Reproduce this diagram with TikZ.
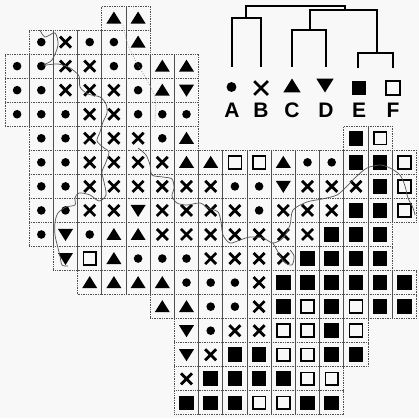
\documentclass[tikz,border=0pt]{standalone}
\usepackage{fontspec}
\setmainfont{Liberation Sans}
\definecolor{bgc}{RGB}{248,248,248}
\definecolor{gridc}{RGB}{80,80,80}
\definecolor{wavec}{RGB}{85,85,85}
\tikzset{
  cellbox/.style={draw=gridc, line width=0.8pt, dash pattern=on 1pt off 0.7pt,
    minimum width=24.2pt, minimum height=24.05pt, inner sep=0pt, outer sep=0pt},
  dendro/.style={line width=2pt, line cap=rect},
  lettr/.style={font=\fontsize{21}{21}\selectfont\bfseries, inner sep=0pt},
  wave/.style={draw=wavec, line width=0.7pt},
  faint/.style={draw=wavec!60, line width=0.6pt, dash pattern=on 1pt off 1.5pt}
}
\newcommand\dsymo[2][1]{\begin{scope}[shift={(#2)},scale=#1]\fill (0,0) circle[radius=4.3];\end{scope}}
\newcommand\dsymx[2][1]{\begin{scope}[shift={(#2)},scale=#1]\draw[line width=2.8pt] (-5.5,-5.5) -- (5.5,5.5) (-5.5,5.5) -- (5.5,-5.5);\end{scope}}
\newcommand\dsymt[2][1]{\begin{scope}[shift={(#2)},scale=#1]\fill (0,-6.5) -- (7.5,5.5) -- (-7.5,5.5) -- cycle;\end{scope}}
\newcommand\dsymv[2][1]{\begin{scope}[shift={(#2)},scale=#1]\fill (0,6.5) -- (7.5,-5.5) -- (-7.5,-5.5) -- cycle;\end{scope}}
\newcommand\dsymf[2][1]{\begin{scope}[shift={(#2)},scale=#1]\fill (-7.3,-7.3) rectangle (7.3,7.3);\end{scope}}
\newcommand\dsyme[2][1]{\begin{scope}[shift={(#2)},scale=#1]\draw[line width=1.6pt] (-6.4,-6.4) rectangle (6.4,6.4);\end{scope}}
\newcommand\cellrow[3]{%
  \foreach \s [count=\k from #2] in {#3} {%
    \node[cellbox] (c#1-\k) at ({5+24.2*\k+12.1},{6+24.05*#1+12.03}) {};
    \csname dsym\s\endcsname{c#1-\k}
  }}
\begin{document}
\begin{tikzpicture}[x=1pt,y=-1pt]
\fill[bgc] (0,0) rectangle (419,418);
\useasboundingbox (0,0) rectangle (419,418);
% grid
\cellrow{0}{4}{t,t}
\cellrow{1}{1}{o,x,o,o,t}
\cellrow{2}{0}{o,o,x,x,o,o,t,t}
\cellrow{3}{0}{o,o,x,x,x,o,t,v}
\cellrow{4}{0}{o,o,o,x,x,o,o,o}
\cellrow{5}{1}{o,o,x,x,x,o,t}
\cellrow{5}{14}{f,e}
\cellrow{6}{1}{o,o,x,x,x,x,t,t,e,e,t,o,o,f,f,e}
\cellrow{7}{1}{o,o,x,x,x,x,x,x,o,o,v,x,x,x,f,e}
\cellrow{8}{1}{o,o,x,x,v,x,x,x,x,o,x,x,x,f,f,e}
\cellrow{9}{1}{o,v,o,t,t,x,x,x,x,x,x,x,f,f,f}
\cellrow{10}{2}{v,e,t,o,o,o,x,x,x,x,f,f,f,f}
\cellrow{11}{3}{t,t,t,t,o,o,o,x,f,f,f,f,f,f}
\cellrow{12}{6}{t,t,o,o,x,f,e,f,e,f,f}
\cellrow{13}{7}{v,o,x,x,e,e,f,e}
\cellrow{14}{7}{v,x,f,f,e,e,f,f}
\cellrow{15}{7}{x,f,f,f,f,e,e}
\cellrow{16}{7}{f,f,f,e,e,f,f}
% boundary lines
\draw[wave] plot[smooth] coordinates {(40,30) (45,37) (55,33) (58,45) (52,60) (44,65) (58,64) (70,68) (79,76) (80,87) (88,94) (100,97) (106,104) (107,113) (103,122) (100,132) (97,141) (104,148) (109,152) (106,162) (102,172) (104,182) (106,195) (99,201) (90,195) (79,193) (75,198) (75,205) (66,207) (58,213) (55,222) (55,235) (58,248) (60,256) (62,265) (68,266)};
\draw[wave] plot[smooth] coordinates {(138,148) (146,155) (150,165) (152,175) (163,177) (172,179) (174,188) (172,196) (177,203) (187,205) (200,203) (208,208) (218,212) (221,222) (223,235) (230,243) (240,240) (250,237) (263,238) (273,243) (283,238) (290,225) (293,210) (307,202) (322,199) (337,195) (347,186) (357,176) (367,168) (380,165) (390,168) (400,175) (405,186) (408,198) (413,208) (415,215)};
\draw[wave] plot[smooth] coordinates {(273,243) (278,252) (284,262) (292,265) (294,256) (290,250)};
\draw[faint] plot[smooth] coordinates {(123,25) (128,45) (138,65) (148,82) (155,98) (155,122)};
% dendrogram
\coordinate (dA) at (231.7,66);  \coordinate (dAt) at (231.7,18);
\coordinate (dB) at (261,66);    \coordinate (dBt) at (261,18);
\coordinate (dAB) at (245.7,18); \coordinate (dABt) at (245.7,6);
\coordinate (dR) at (345,6);     \coordinate (dRb) at (345,10);
\coordinate (dCDt) at (310,10);  \coordinate (dCD) at (310,30);
\coordinate (dEFt) at (377,10);  \coordinate (dEF) at (377,53);
\coordinate (dCt) at (292,30);   \coordinate (dC) at (292,66);
\coordinate (dDt) at (326,30);   \coordinate (dD) at (326,66);
\coordinate (dEt) at (358,53);   \coordinate (dE) at (358,67);
\coordinate (dFt) at (393,53);   \coordinate (dF) at (393,67);
\draw[dendro] (dA) -- (dAt) -- (dBt) -- (dB);
\draw[dendro] (dAB) -- (dABt) -- (dR) -- (dRb);
\draw[dendro] (dCD) -- (dCDt) -- (dEFt) -- (dEF);
\draw[dendro] (dC) -- (dCt) -- (dDt) -- (dD);
\draw[dendro] (dE) -- (dEt) -- (dFt) -- (dF);
% legend symbols
\coordinate (sA) at (231.5,87); \coordinate (sB) at (261,88);
\coordinate (sC) at (292,86);   \coordinate (sD) at (325,85);
\coordinate (sE) at (359,88);   \coordinate (sF) at (393,88);
\dsymo[1.15]{sA}
\dsymx[1.25]{sB}
\dsymt[1.15]{sC}
\dsymv[1.15]{sD}
\dsymf[1.02]{sE}
\dsyme[1.1]{sF}
% letters
\node[lettr] (A) at (232,110) {A};
\node[lettr] (B) at (261,110) {B};
\node[lettr] (C) at (292,110) {C};
\node[lettr] (D) at (326,110) {D};
\node[lettr] (E) at (359,110) {E};
\node[lettr] (F) at (393,110) {F};
\end{tikzpicture}
\end{document}
